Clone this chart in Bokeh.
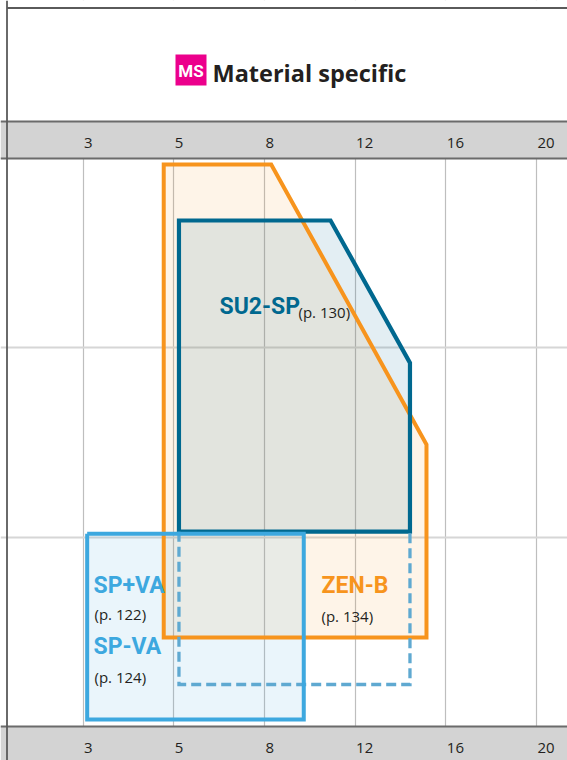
from bokeh.plotting import figure
from bokeh.models import FixedTicker, Range1d
from bokeh.core.properties import value
from bokeh.embed import file_html
from bokeh.resources import INLINE

# ---------------- data ----------------
X_TICK_LABELS = ["3", "5", "8", "12", "16", "20"]   # evenly spaced category positions 0..5
Y_GRID = [1, 2]

# ZEN-B (orange)
zen_x = [0.89, 2.075, 3.787, 3.787, 0.89]
zen_y = [2.969, 2.969, 1.490, 0.470, 0.470]
# SU2-SP (dark blue), solid outline
su2_x = [1.058, 2.729, 3.605, 3.605, 1.058]
su2_y = [2.673, 2.673, 1.921, 1.029, 1.029]
# SU2-SP dashed extension
su2d_x = [1.058, 1.058, 3.605, 3.605]
su2d_y = [1.029, 0.222, 0.222, 1.029]
# SP+VA / SP-VA (light blue)
spva_x = [0.046, 2.434, 2.434, 0.046, 0.046]
spva_y = [1.018, 1.018, 0.037, 0.037, 1.018]

TITLE = "Material specific"
BADGE = "MS"

# ---------------- layout ----------------
W, H = 567, 760
X0, DX = 82.5, 90.7      # page px of tick 0, px per tick
Y0, DY = 726.0, 189.3    # page px of y=0, px per unit
BASE_SHIFT = 0.33        # renderer places 'alphabetic' text this many em lower


def fx(px):
    return (px - X0) / DX


def fy(py):
    return (Y0 - py) / DY


def fb(baseline_px, size_px):
    return fy(baseline_px - BASE_SHIFT * size_px)


xr = Range1d(fx(0), fx(W))
yr = Range1d(fy(H), fy(0))

ORANGE = "#F7941D"
DBLUE = "#00688F"
LBLUE = "#3DA8DF"
DASH = "#5FA9D1"
DARK = "#231F20"
BAND = "#D3D3D3"
BANDLINE = "#6B6B6B"
COND = "Roboto"

p = figure(width=W, height=H, x_range=xr, y_range=yr,
           x_axis_location=None, y_axis_location=None,
           toolbar_location=None, output_backend="svg",
           min_border=0, outline_line_color=None,
           background_fill_color="white", border_fill_color="white")

p.xgrid.ticker = FixedTicker(ticks=list(range(len(X_TICK_LABELS))))
p.ygrid.ticker = FixedTicker(ticks=Y_GRID)
p.xgrid.grid_line_color = "#BEBEBE"
p.xgrid.grid_line_width = 1.2
p.ygrid.grid_line_color = "#D6D6D6"
p.ygrid.grid_line_width = 2

# fills
p.patch(zen_x, zen_y, fill_color=ORANGE, fill_alpha=0.10, line_color=None)
p.patch(su2_x, su2_y, fill_color=DBLUE, fill_alpha=0.11, line_color=None)
p.patch(spva_x, spva_y, fill_color=LBLUE, fill_alpha=0.11, line_color=None)

# outlines
p.patch(zen_x, zen_y, fill_color=None, line_color=ORANGE, line_width=4, line_join="miter")
p.patch(su2_x, su2_y, fill_color=None, line_color=DBLUE, line_width=4.2, line_join="miter")
p.line(su2d_x, su2d_y, line_color=DASH, line_width=3.3, line_dash="10 5", line_join="miter")
p.line(spva_x, spva_y, line_color=LBLUE, line_width=4, line_join="miter")

# labels
BIG = 23
p.text(x=[fx(219)], y=[fb(313.7, BIG)], text=["SU2-SP"], text_font=value(COND),
       text_font_style="bold", text_font_size=f"{BIG}px", text_color=DBLUE,
       text_baseline="alphabetic", text_align="left")
p.text(x=[fx(298)], y=[fb(316, 15)], text=["(p. 130)"], text_font=value("Open Sans"),
       text_font_size="15px", text_color=DARK, text_baseline="alphabetic", text_align="left")

p.text(x=[fx(93), fx(93)], y=[fb(592.7, BIG), fb(653.2, BIG)], text=["SP+VA", "SP-VA"],
       text_font=value(COND), text_font_style="bold", text_font_size=f"{BIG}px",
       text_color=LBLUE, text_baseline="alphabetic", text_align="left")
p.text(x=[fx(94), fx(94)], y=[fb(618.7, 15), fb(681, 15)], text=["(p. 122)", "(p. 124)"],
       text_font=value("Open Sans"), text_font_size="15px", text_color=DARK,
       text_baseline="alphabetic", text_align="left")

p.text(x=[fx(321)], y=[fb(592.2, BIG)], text=["ZEN-B"], text_font=value(COND),
       text_font_style="bold", text_font_size=f"{BIG}px", text_color=ORANGE,
       text_baseline="alphabetic", text_align="left")
p.text(x=[fx(321)], y=[fb(620, 15)], text=["(p. 134)"], text_font=value("Open Sans"),
       text_font_size="15px", text_color=DARK, text_baseline="alphabetic", text_align="left")

# title area (white, covers grid)
p.quad(left=[xr.start], right=[xr.end], top=[yr.end], bottom=[fy(121)],
       fill_color="white", line_color=None)
p.quad(left=[fx(175)], right=[fx(206)], top=[fy(54)], bottom=[fy(85)],
       fill_color="#EC008C", line_color=None)
p.text(x=[fx(190.5)], y=[fb(76, 17)], text=[BADGE], text_font=value(COND),
       text_font_style="bold", text_font_size="17px", text_color="white",
       text_baseline="alphabetic", text_align="center")
p.text(x=[fx(212)], y=[fb(80, 23.5)], text=[TITLE], text_font=value("Open Sans"),
       text_font_style="bold", text_font_size="23.5px", text_color=DARK,
       text_baseline="alphabetic", text_align="left")

# axis bands
p.quad(left=[xr.start], right=[xr.end], top=[fy(121)], bottom=[fy(158)],
       fill_color=BAND, line_color=None)
p.quad(left=[xr.start], right=[xr.end], top=[fy(726)], bottom=[yr.start],
       fill_color=BAND, line_color=None)
for py in (121, 158, 726):
    p.line([xr.start, xr.end], [fy(py), fy(py)], line_color=BANDLINE, line_width=2)

tick_x = list(range(len(X_TICK_LABELS)))
for base in (147.3, 752):
    p.text(x=tick_x, y=[fb(base, 15)] * len(tick_x), text=X_TICK_LABELS, x_offset=1,
           text_font=value("Open Sans"), text_font_size="15px", text_color=DARK,
           text_baseline="alphabetic", text_align="left")

# outer frame lines (left and top)
p.line([fx(6.5), fx(6.5)], [yr.start, yr.end], line_color="#5A5A5A", line_width=1.8)
p.line([fx(6.5), xr.end], [fy(7.5), fy(7.5)], line_color="#5A5A5A", line_width=1.8)

open("out.html", "w").write(file_html(p, INLINE))
